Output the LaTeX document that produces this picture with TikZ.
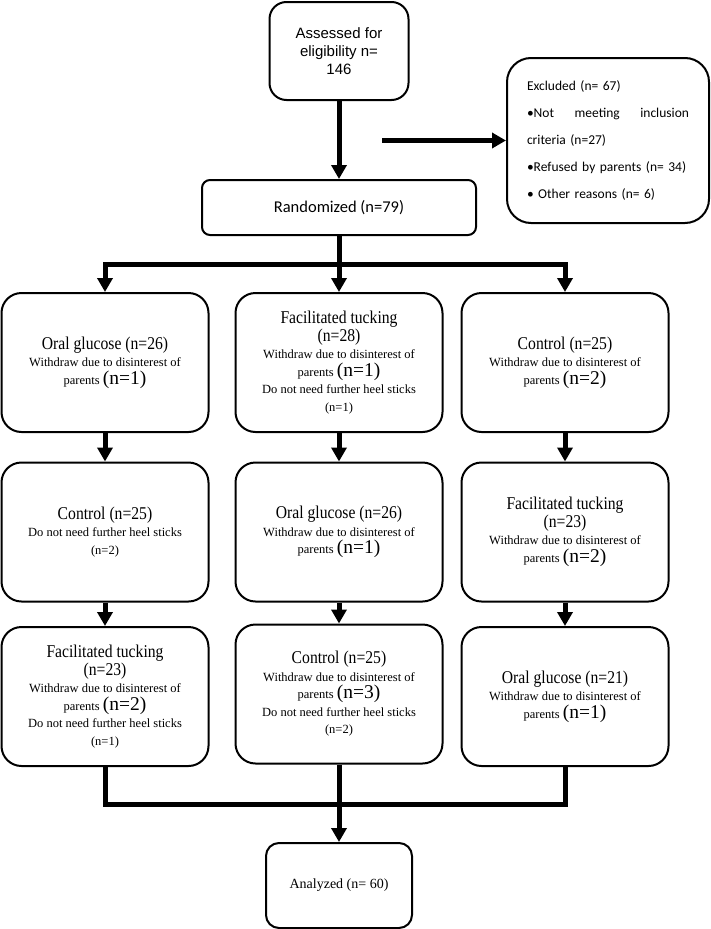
\documentclass[tikz,border=0pt]{standalone}
\usepackage{fontspec}
\setmainfont{Liberation Serif}
\newfontfamily\titlefont[FakeStretch=0.87]{Liberation Serif}
\newfontfamily\arialfont{Liberation Sans}
\newfontfamily\calibrifont{Carlito}
\usetikzlibrary{arrows.meta}
\tikzset{
      box/.style  = { draw, line width=2pt, align=center, inner sep=0pt },
      arm/.style  = { box, rounded corners=20pt, minimum width=207pt, minimum height=139pt,
                      font=\fontsize{12.5}{17.5}\selectfont },
      link/.style = { line width=5pt },
      flow/.style = { link, -{Triangle[length=14pt,width=15pt]} }
    }
\newcommand{\armname}[1]{{\titlefont\fontsize{18}{20}\selectfont #1}}
\newcommand{\bign}[1]{{\fontsize{19.5}{20}\selectfont #1}}

\begin{document}
\begin{tikzpicture}[x=1pt, y=-1pt]
      \useasboundingbox (0,0) rectangle (710,929);
      % Draw top boxes
      \node[box, rounded corners=17pt, minimum width=139pt, minimum height=98pt,
            font=\arialfont\fontsize{15}{18}\selectfont] (assess) at (339,51)
            {Assessed for\\eligibility n=\\146};
      \node[box, rounded corners=8pt, minimum width=274pt, minimum height=55pt,
            font=\calibrifont\fontsize{16.5}{19}\selectfont] (rand) at (339,207.5)
            {Randomized (n=79)};
      \node[box, rounded corners=24pt, minimum width=202pt, minimum height=165pt,
            text width=162pt, align=left, font=\calibrifont\fontsize{13.5}{27}\selectfont] (excl) at (608,140.5)
            {Excluded (n= 67)\\\textbullet Not\hfill meeting\hfill inclusion\\criteria (n=27)\\\textbullet Refused by parents (n= 34)\\\textbullet\ Other reasons (n= 6)};

      % Draw arm boxes
      \node[arm] (a1) at (105,362.5) {\armname{Oral glucose (n=26)}\\Withdraw due to disinterest of\\parents \bign{(n=1)}};
      \node[arm] (b1) at (339,362.5) {\armname{Facilitated tucking}\\\armname{(n=28)}\\Withdraw due to disinterest of\\parents \bign{(n=1)}\\Do not need further heel sticks\\(n=1)};
      \node[arm] (c1) at (565,362.5) {\armname{Control (n=25)}\\Withdraw due to disinterest of\\parents \bign{(n=2)}};

      \node[arm] (a2) at (105,532) {\armname{Control (n=25)}\\Do not need further heel sticks\\(n=2)};
      \node[arm] (b2) at (339,532) {\armname{Oral glucose (n=26)}\\Withdraw due to disinterest of\\parents \bign{(n=1)}};
      \node[arm] (c2) at (565,532) {\armname{Facilitated tucking}\\\armname{(n=23)}\\Withdraw due to disinterest of\\parents \bign{(n=2)}};

      \node[arm] (a3) at (105,696.5) {\armname{Facilitated tucking}\\\armname{(n=23)}\\Withdraw due to disinterest of\\parents \bign{(n=2)}\\Do not need further heel sticks\\(n=1)};
      \node[arm] (b3) at (339,694) {\armname{Control (n=25)}\\Withdraw due to disinterest of\\parents \bign{(n=3)}\\Do not need further heel sticks\\(n=2)};
      \node[arm] (c3) at (565,696.5) {\armname{Oral glucose (n=21)}\\Withdraw due to disinterest of\\parents \bign{(n=1)}};

      \node[box, rounded corners=13pt, minimum width=146pt, minimum height=85pt,
            font=\fontsize{14}{16}\selectfont] (anal) at (339,885.5) {Analyzed (n= 60)};

      % Draw connectors
      \coordinate (exfrom) at (382,140.5);
      \coordinate (split)  at (339,264);
      \coordinate (join)   at (339,804);
      \draw[flow] (assess) -- (rand);
      \draw[flow] (exfrom) -- (excl);
      \draw[flow] (rand) -- (b1);
      \draw[flow] (split) -| (a1);
      \draw[flow] (split) -| (c1);
      \foreach \u/\v in {a1/a2, a2/a3, b1/b2, b2/b3, c1/c2, c2/c3} {
        \draw[flow] (\u) -- (\v);
      }
      \draw[link] (a3) |- (join);
      \draw[link] (c3) |- (join);
      \draw[flow] (b3) -- (anal);
\end{tikzpicture}
\end{document}
